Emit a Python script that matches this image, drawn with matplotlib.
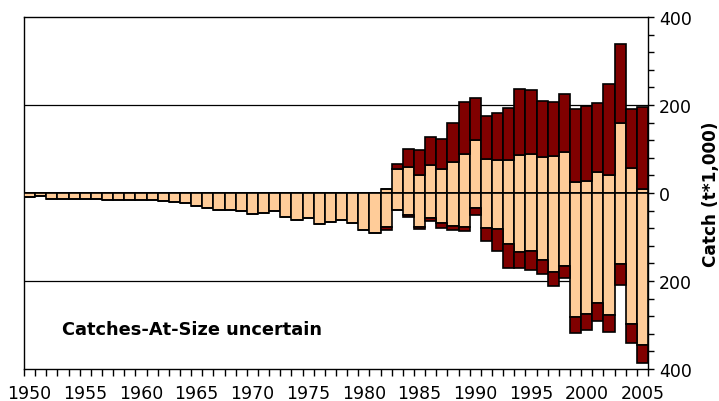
import numpy as np
import matplotlib
matplotlib.use("Agg")
import matplotlib.pyplot as plt
from matplotlib.ticker import MultipleLocator, FixedLocator, FuncFormatter

# --- Veriler (t*1000) ---
years = np.arange(1950, 2006)

# ustteki (pozitif) yigin: acik renk + koyu renk
up_light = [0]*32 + [10, 55, 58, 42, 64, 55, 70, 89, 121, 78, 74, 74, 87, 89, 82, 83,
                     93, 26, 27, 48, 40, 158, 56, 10]
up_dark = [0]*32 + [0, 11, 43, 56, 63, 68, 89, 117, 94, 98, 108, 119, 149, 144, 126, 124,
                    131, 166, 171, 156, 208, 181, 136, 186]

# alttaki (negatif) yigin
down_light = [10, 6, 13, 14, 14, 14, 14, 17, 16, 16, 16, 17, 19, 21, 23, 29,
              35, 38, 38, 40, 48, 45, 42, 55, 61, 56, 71, 67, 61, 69, 85, 92,
              78, 39, 49, 77, 57, 69, 76, 77, 34, 80, 81, 117, 133, 132, 152, 179,
              165, 282, 276, 250, 277, 161, 298, 345]
down_dark = [0]*32 + [6, 0, 5, 5, 6, 11, 8, 10, 17, 28, 50, 53, 38, 42, 32, 32,
                      29, 36, 35, 42, 40, 48, 43, 41]

light_col = '#FFCC99'
dark_col = '#800000'

up_light = np.array(up_light)
up_dark = np.array(up_dark)
down_light = np.array(down_light)
down_dark = np.array(down_dark)

fig = plt.figure(figsize=(7.19, 4.02), dpi=100)
ax = fig.add_axes([24/719, 1 - 370/402, 624/719, 352/402])

kw = dict(width=1.0, edgecolor='black', linewidth=1.2, zorder=3)
ax.bar(years, up_light, color=light_col, **kw)
ax.bar(years, up_dark, bottom=up_light, color=dark_col, **kw)
ax.bar(years, -down_light, color=light_col, **kw)
ax.bar(years, -down_dark, bottom=-down_light, color=dark_col, **kw)

# yatay cizgiler
for yv in (200, -200):
    ax.axhline(yv, color='black', linewidth=0.9, zorder=1)

ax.set_xlim(1949.5, 2005.5)
ax.set_ylim(-400, 400)

# x ekseni: etiketler cubuk ortasinda, tikler cubuk sinirlarinda
ax.xaxis.set_major_locator(FixedLocator(np.arange(1950, 2006, 5)))
ax.xaxis.set_minor_locator(FixedLocator(np.arange(1949.5, 2006, 1)))
ax.tick_params(axis='x', which='major', length=0, pad=11, labelsize=12.5)
ax.tick_params(axis='x', which='minor', length=5, width=1, direction='out')

# y ekseni sagda, mutlak degerler
ax.yaxis.tick_right()
ax.yaxis.set_label_position('right')
ax.yaxis.set_major_locator(MultipleLocator(200))
ax.yaxis.set_minor_locator(MultipleLocator(40))
ax.yaxis.set_major_formatter(FuncFormatter(lambda v, p: f"{abs(int(v))}"))
ax.tick_params(axis='y', which='major', length=4, width=1, direction='out', pad=4, labelsize=12.5)
ax.tick_params(axis='y', which='minor', length=4, width=1, direction='out')
ax.set_ylabel('Catch (t*1,000)', fontsize=12.2, fontweight='bold', labelpad=7)

for s in ax.spines.values():
    s.set_linewidth(1.0)
    s.set_color('black')

ax.text(0.061, 0.114, 'Catches-At-Size uncertain', transform=ax.transAxes,
        ha='left', va='center', fontsize=12.8, fontweight='bold')

fig.savefig('out.png', dpi=100)
